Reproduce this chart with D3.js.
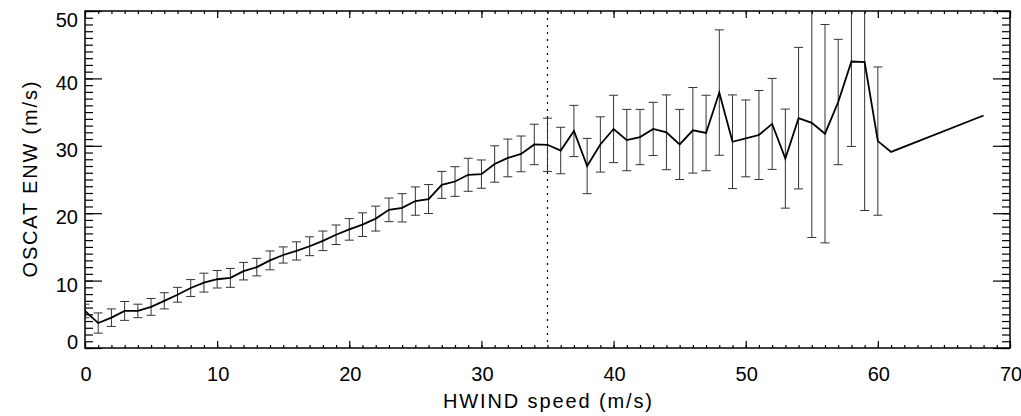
<!DOCTYPE html>
<html>
<head>
<meta charset="utf-8">
<script src="https://cdn.jsdelivr.net/npm/d3@7"></script>
<style>
  body { margin: 0; background: #fff; }
  text { font-family: "Liberation Sans", Arial, sans-serif; fill: #000; }
</style>
</head>
<body>
<div id="vis"></div>
<script>
const width = 1021;
const height = 416;
const marginLeft = 85;
const marginRight = 11;
const marginTop = 11;
const marginBottom = 68;

// HWIND speed bins (m/s)
const hwind = [0, 1, 2, 3, 4, 5, 6, 7, 8, 9, 10, 11, 12, 13, 14, 15, 16, 17, 18, 19,
  20, 21, 22, 23, 24, 25, 26, 27, 28, 29, 30, 31, 32, 33, 34, 35, 36, 37, 38, 39,
  40, 41, 42, 43, 44, 45, 46, 47, 48, 49, 50, 51, 52, 53, 54, 55, 56, 57, 58, 59,
  60, 61, 68];
// mean OSCAT ENW per bin
const enwMean = [5.5, 3.7, 4.5, 5.5, 5.5, 6.1, 7.0, 7.9, 8.9, 9.7,
  10.2, 10.4, 11.4, 12.0, 13.0, 13.8, 14.4, 15.1, 15.9, 16.8,
  17.6, 18.3, 19.2, 20.5, 20.8, 21.8, 22.1, 24.2, 24.7, 25.7,
  25.8, 27.3, 28.2, 28.8, 30.2, 30.15, 29.3, 32.2, 27.0, 30.2,
  32.5, 30.85, 31.3, 32.5, 32.0, 30.2, 32.3, 31.9, 37.9, 30.6,
  31.1, 31.6, 33.25, 28.1, 34.1, 33.4, 31.8, 36.5, 42.5, 42.4,
  30.7, 29.1, 34.5];
// standard deviation per bin (null = no bar)
const enwStd = [1.0, 1.5, 1.3, 1.4, 1.0, 1.25, 1.2, 1.1, 1.25, 1.4,
  1.3, 1.4, 1.3, 1.3, 1.4, 1.2, 1.35, 1.4, 1.45, 1.45,
  1.6, 1.75, 1.85, 1.75, 2.1, 2.1, 2.15, 2.0, 2.2, 2.45,
  2.1, 2.7, 2.8, 2.65, 3.0, 3.95, 3.45, 3.8, 4.1, 4.1,
  5.0, 4.55, 4.1, 3.95, 5.55, 5.2, 6.35, 5.6, 9.3, 6.95,
  5.7, 6.6, 6.75, 7.35, 10.5, 17.0, 16.2, 9.3, 12.6, 22.0,
  11.0, null, null];

const xTickLabels = [0, 10, 20, 30, 40, 50, 60, 70];
const yTickLabels = [0, 10, 20, 30, 40, 50];
const splitSpeed = [35];

const data = hwind.map((h, i) => ({ x: h, y: enwMean[i], e: enwStd[i] }));

const x = d3.scaleLinear().domain([0, 70]).range([marginLeft, width - marginRight]);
const y = d3.scaleLinear().domain([0, 50]).range([height - marginBottom, marginTop]);

const svg = d3.select("#vis")
  .append("svg")
  .attr("width", width)
  .attr("height", height);

svg.append("rect")
  .attr("width", width)
  .attr("height", height)
  .attr("fill", "white");

svg.append("clipPath")
  .attr("id", "plotClip")
  .append("rect")
  .attr("x", marginLeft)
  .attr("y", marginTop)
  .attr("width", width - marginLeft - marginRight)
  .attr("height", height - marginTop - marginBottom);

const plotG = svg.append("g").attr("clip-path", "url(#plotClip)");

// dotted line at 35 m/s
plotG.selectAll("line.split")
  .data(splitSpeed)
  .join("line")
  .attr("class", "split")
  .attr("x1", d => x(d))
  .attr("x2", d => x(d))
  .attr("y1", marginTop)
  .attr("y2", height - marginBottom)
  .attr("stroke", "#000")
  .attr("stroke-width", 1.2)
  .attr("stroke-dasharray", "2,5");

// error bars
const bars = plotG.selectAll("g.err")
  .data(data.filter(d => d.e != null))
  .join("g")
  .attr("class", "err")
  .attr("stroke", "#333")
  .attr("stroke-width", 1);

bars.append("line")
  .attr("x1", d => x(d.x))
  .attr("x2", d => x(d.x))
  .attr("y1", d => y(d.y - d.e))
  .attr("y2", d => y(d.y + d.e));

bars.append("line")
  .attr("x1", d => x(d.x) - 4.5)
  .attr("x2", d => x(d.x) + 4.5)
  .attr("y1", d => y(d.y + d.e))
  .attr("y2", d => y(d.y + d.e));

bars.append("line")
  .attr("x1", d => x(d.x) - 4.5)
  .attr("x2", d => x(d.x) + 4.5)
  .attr("y1", d => y(d.y - d.e))
  .attr("y2", d => y(d.y - d.e));

// mean line
const drawLine = d3.line()
  .x(d => x(d.x))
  .y(d => y(d.y));

plotG.append("path")
  .attr("d", drawLine(data))
  .attr("fill", "none")
  .attr("stroke", "#000")
  .attr("stroke-width", 1.8);

// ticks on all four sides, pointing inward
const xMinor = x.ticks(70);
const yMinor = y.ticks(50);

const tickAxis = (axis, values, size) => axis.tickValues(values).tickSize(-size).tickFormat("");

const axesG = svg.append("g").attr("class", "ticks");

axesG.append("g")
  .attr("transform", `translate(0,${height - marginBottom})`)
  .call(tickAxis(d3.axisBottom(x), xMinor, 3));
axesG.append("g")
  .attr("transform", `translate(0,${height - marginBottom})`)
  .call(tickAxis(d3.axisBottom(x), xTickLabels, 7));
axesG.append("g")
  .attr("transform", `translate(0,${marginTop})`)
  .call(tickAxis(d3.axisTop(x), xMinor, 3));
axesG.append("g")
  .attr("transform", `translate(0,${marginTop})`)
  .call(tickAxis(d3.axisTop(x), xTickLabels, 7));
axesG.append("g")
  .attr("transform", `translate(${marginLeft},0)`)
  .call(tickAxis(d3.axisLeft(y), yMinor, 8));
axesG.append("g")
  .attr("transform", `translate(${marginLeft},0)`)
  .call(tickAxis(d3.axisLeft(y), yTickLabels, 17));
axesG.append("g")
  .attr("transform", `translate(${width - marginRight},0)`)
  .call(tickAxis(d3.axisRight(y), yMinor, 8));
axesG.append("g")
  .attr("transform", `translate(${width - marginRight},0)`)
  .call(tickAxis(d3.axisRight(y), yTickLabels, 17));

axesG.selectAll(".domain").remove();
axesG.selectAll(".tick line").attr("stroke", "#000").attr("stroke-width", 1.2);

// frame
svg.append("rect")
  .attr("x", marginLeft)
  .attr("y", marginTop)
  .attr("width", width - marginLeft - marginRight)
  .attr("height", height - marginTop - marginBottom)
  .attr("fill", "none")
  .attr("stroke", "#000")
  .attr("stroke-width", 1.5);

// tick labels
svg.selectAll("text.xlab")
  .data(xTickLabels)
  .join("text")
  .attr("class", "xlab")
  .attr("x", d => x(d) + 1)
  .attr("y", 381)
  .attr("text-anchor", "middle")
  .attr("font-size", 20)
  .text(d => d);

svg.selectAll("text.ylab")
  .data(yTickLabels)
  .join("text")
  .attr("class", "ylab")
  .attr("x", 78)
  .attr("y", d => Math.max(20, Math.min(342, y(d) + 4)))
  .attr("dy", "0.36em")
  .attr("text-anchor", "end")
  .attr("font-size", 20)
  .text(d => d);

// axis titles
svg.append("text")
  .attr("x", (marginLeft + width - marginRight) / 2)
  .attr("y", 408)
  .attr("text-anchor", "middle")
  .attr("font-size", 20)
  .attr("textLength", 209)
  .attr("lengthAdjust", "spacing")
  .text("HWIND speed (m/s)");

svg.append("text")
  .attr("transform", `translate(37,${(marginTop + height - marginBottom) / 2}) rotate(-90)`)
  .attr("text-anchor", "middle")
  .attr("font-size", 20)
  .attr("textLength", 196)
  .attr("lengthAdjust", "spacing")
  .text("OSCAT ENW (m/s)");
</script>
</body>
</html>
